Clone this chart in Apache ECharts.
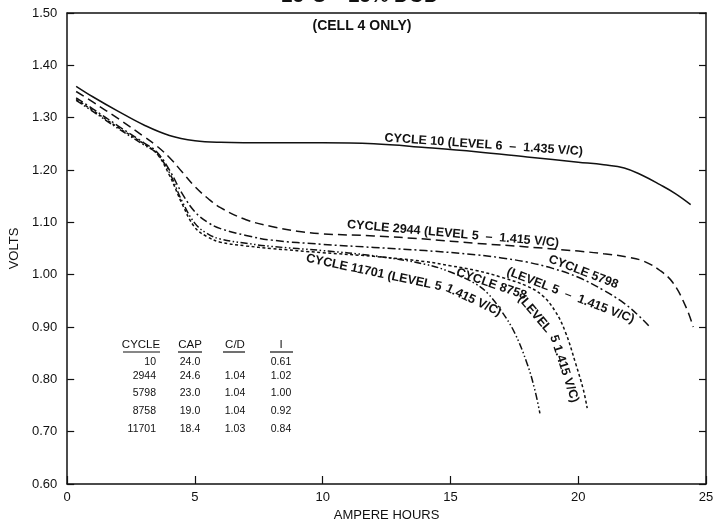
<!DOCTYPE html>
<html>
<head>
<meta charset="utf-8">
<script src="https://cdn.jsdelivr.net/npm/echarts@6/dist/echarts.min.js"></script>
<style>
html,body{margin:0;padding:0;background:#fff;}
#chart{width:717px;height:527px;}
</style>
</head>
<body>
<div id="chart"></div>
<script>
// ---------- DATA ----------
const titleText = "25°C – 25% DOD";
const subtitleText = "(CELL 4 ONLY)";
const xAxisName = "AMPERE HOURS";
const yAxisName = "VOLTS";

const c10X = [0.35,1,2,3,4,5,6,8,10,12,14,16,18,20,21,21.8,22.5,23.2,23.8,24.4];
const c10V = [1.360,1.340,1.312,1.286,1.266,1.256,1.253,1.252,1.252,1.250,1.243,1.235,1.225,1.215,1.210,1.204,1.190,1.172,1.155,1.134];

const c2944X = [0.35,1,2,3,3.5,4,4.5,5,5.5,6,7,8,9,10,12,14,16,18,20,21,22,22.6,23.2,23.7,24.2,24.5];
const c2944V = [1.350,1.330,1.298,1.264,1.246,1.224,1.196,1.168,1.146,1.128,1.105,1.092,1.083,1.078,1.074,1.068,1.060,1.053,1.045,1.040,1.033,1.025,1.008,0.985,0.940,0.900];

const c5798X = [0.35,1,2,3,3.5,4,4.5,5,5.5,6,7,8,10,12,14,16,17,18,19,20,21,21.8,22.4,22.8];
const c5798V = [1.338,1.317,1.284,1.252,1.235,1.200,1.155,1.120,1.100,1.088,1.075,1.066,1.058,1.052,1.046,1.038,1.032,1.024,1.012,0.995,0.970,0.945,0.920,0.900];

const c8758X = [0.35,1,2,3,3.5,4,4.5,5,5.5,6,7,8,10,12,14,15,16,17,18,18.6,19.1,19.5,19.9,20.2,20.35];
const c8758V = [1.335,1.314,1.281,1.250,1.232,1.190,1.135,1.090,1.072,1.062,1.055,1.050,1.042,1.035,1.025,1.017,1.008,0.995,0.978,0.960,0.930,0.890,0.830,0.780,0.745];

const c11701X = [0.35,1,2,3,3.5,4,4.5,5,5.5,6,7,8,10,12,14,15,16,16.5,17,17.5,18,18.3,18.5];
const c11701V = [1.333,1.312,1.279,1.248,1.232,1.195,1.140,1.098,1.078,1.068,1.060,1.054,1.046,1.036,1.020,1.005,0.982,0.962,0.930,0.890,0.830,0.780,0.735];

// curve annotations: text, x, volts, angle (deg, clockwise)
const annText  = ["CYCLE 10 (LEVEL 6  –  1.435 V/C)", "CYCLE 2944 (LEVEL 5  –  1.415 V/C)", "CYCLE 5798", "(LEVEL 5  –  1.415 V/C)", "CYCLE 8758", "(LEVEL", "5 1.415 V/C)", "CYCLE 11701 (LEVEL 5", "1.415 V/C)"];
const annX     = [16.3, 15.1, 20.2, 19.7, 16.6, 18.3, 19.45, 12.0, 15.9];
const annV     = [1.248, 1.078, 1.005, 0.960, 0.982, 0.925, 0.820, 1.004, 0.951];
const annAngle = [4, 5, 21, 21, 19, 50, 72, 12, 25];

// table
const tableHeaders = ["CYCLE", "CAP", "C/D", "I"];
const tableCycle = ["10", "2944", "5798", "8758", "11701"];
const tableCap = ["24.0", "24.6", "23.0", "19.0", "18.4"];
const tableCD = ["", "1.04", "1.04", "1.04", "1.03"];
const tableI = ["0.61", "1.02", "1.00", "0.92", "0.84"];

// ---------- CHART ----------
const FONT = "'Liberation Sans', Arial, sans-serif";
function pairs(xs, vs){ return xs.map((x,i)=>[x, vs[i]]); }

const chart = echarts.init(document.getElementById('chart'), null, {renderer:'canvas'});

function lineSeries(name, xs, vs, dash){
  return {
    name, type:'line', data: pairs(xs, vs), showSymbol:false, smooth:0.4,
    lineStyle:{color:'#111', width:1.5, type: dash, cap:'butt'}, silent:true, animation:false
  };
}

const axisLineStyle = {lineStyle:{color:'#111', width:1.5}};

chart.setOption({
  animation:false,
  backgroundColor:'#fff',
  grid:{left:66, right:11, top:13, bottom:36, containLabel:false},
  xAxis:[{
    type:'value', min:0, max:25, interval:5, position:'bottom',
    axisLine:{show:true, ...axisLineStyle, onZero:false},
    axisTick:{show:true, inside:true, length:8, lineStyle:{color:'#111', width:1.2}},
    axisLabel:{color:'#111', fontSize:13, fontFamily:FONT, margin:7},
    splitLine:{show:false},
    name:xAxisName, nameLocation:'middle', nameGap:25,
    nameTextStyle:{color:'#111', fontSize:13, fontFamily:FONT}
  },{
    type:'value', min:0, max:25, interval:5, position:'top',
    axisLine:{show:true, ...axisLineStyle, onZero:false},
    axisTick:{show:false}, axisLabel:{show:false}, splitLine:{show:false}
  }],
  yAxis:[{
    type:'value', min:0.6, max:1.5, interval:0.1, position:'left',
    axisLine:{show:true, ...axisLineStyle, onZero:false},
    axisTick:{show:true, inside:true, length:7, lineStyle:{color:'#111', width:1.2}},
    axisLabel:{color:'#111', fontSize:13, fontFamily:FONT, margin:10, formatter:v=>v.toFixed(2)},
    splitLine:{show:false},
    name:yAxisName, nameLocation:'middle', nameGap:42, nameRotate:90,
    nameTextStyle:{color:'#111', fontSize:13, fontFamily:FONT}
  },{
    type:'value', min:0.6, max:1.5, interval:0.1, position:'right',
    axisLine:{show:true, ...axisLineStyle, onZero:false},
    axisTick:{show:true, inside:true, length:7, lineStyle:{color:'#111', width:1.2}},
    axisLabel:{show:false}, splitLine:{show:false}
  }],
  series:[
    lineSeries('CYCLE 10', c10X, c10V, 'solid'),
    lineSeries('CYCLE 2944', c2944X, c2944V, [9,5]),
    lineSeries('CYCLE 5798', c5798X, c5798V, [8,3,2,3]),
    lineSeries('CYCLE 8758', c8758X, c8758V, [3,2.5]),
    lineSeries('CYCLE 11701', c11701X, c11701V, [7,2.5,1.5,2.5,1.5,2.5])
  ]
});

// ---------- ANNOTATIONS ----------
const g = [];
g.push({type:'text', x:360, y:6, style:{text:titleText, font:'bold 20px '+FONT, fill:'#111', align:'center', verticalAlign:'bottom'}});
g.push({type:'text', x:362, y:26, style:{text:subtitleText, font:'bold 14px '+FONT, fill:'#111', align:'center', verticalAlign:'middle'}});

annText.forEach((t,i)=>{
  const p = chart.convertToPixel({xAxisIndex:0, yAxisIndex:0}, [annX[i], annV[i]]);
  g.push({type:'text', x:p[0], y:p[1], rotation:-annAngle[i]*Math.PI/180,
    style:{text:t, font:'bold 12.5px '+FONT, fill:'#111', align:'center', verticalAlign:'middle'}});
});

// table
const colX = [156, 190, 235, 281];
const colAlign = ['right','center','center','center'];
const headerY = 345;
const rowY = [362, 376, 393, 411, 429];
const ulSpan = [[123,160],[178,202],[223,245],[270,293]];
tableHeaders.forEach((h,i)=>{
  const hx = i===0 ? 141 : colX[i];
  g.push({type:'text', x:hx, y:headerY, style:{text:h, font:'11.5px '+FONT, fill:'#111', align:'center', verticalAlign:'middle'}});
  g.push({type:'line', shape:{x1:ulSpan[i][0], y1:headerY+7, x2:ulSpan[i][1], y2:headerY+7}, style:{stroke:'#111', lineWidth:1.2}});
});
const cols = [tableCycle, tableCap, tableCD, tableI];
cols.forEach((col,ci)=>{
  col.forEach((val,ri)=>{
    g.push({type:'text', x:colX[ci], y:rowY[ri], style:{text:val, font:'10.5px '+FONT, fill:'#111', align:colAlign[ci], verticalAlign:'middle'}});
  });
});

chart.setOption({graphic:g});
</script>
</body>
</html>
